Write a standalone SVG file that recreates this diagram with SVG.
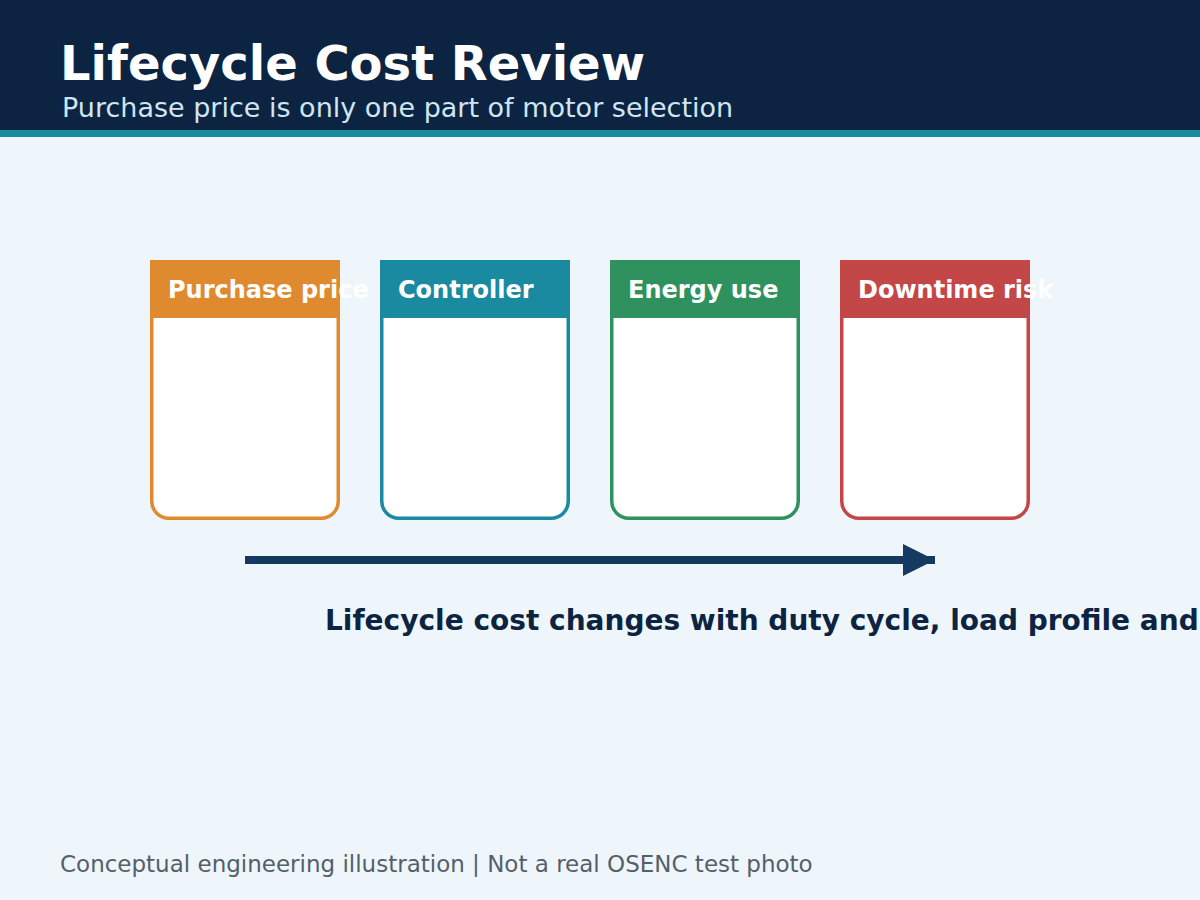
<svg xmlns="http://www.w3.org/2000/svg" width="1200" height="900" viewBox="0 0 1200 900">
<style>
.card{fill:#ffffff;stroke-width:3.5}
.lbl{font-family:"DejaVu Sans",sans-serif;font-size:24px;font-weight:bold;fill:#ffffff}
</style>
<defs>
<marker id="ah" viewBox="0 0 10 10" refX="10" refY="5" markerWidth="4" markerHeight="4" markerUnits="strokeWidth" orient="auto">
<path d="M0,0 L10,5 L0,10 Z" fill="#143a60"/>
</marker>
</defs>
<rect width="1200" height="900" fill="#eef6fb"/>
<rect width="1200" height="130" fill="#0c2442"/>
<rect y="130" width="1200" height="7" fill="#1a8aa0"/>
<text x="60" y="80" font-family="DejaVu Sans,sans-serif" font-size="48" font-weight="bold" fill="#ffffff">Lifecycle Cost Review</text>
<text x="62" y="117" font-family="DejaVu Sans,sans-serif" font-size="27" fill="#cfe6f5">Purchase price is only one part of motor selection</text>
<g id="card-purchase">
<path class="card" d="M151.75,262 H338.25 V501.25 a17,17 0 0 1 -17,17 H168.75 a17,17 0 0 1 -17,-17 Z" stroke="#e08a30"/>
<rect x="150" y="260" width="190" height="58" fill="#e08a30"/>
<text class="lbl" x="168" y="298">Purchase price</text>
</g>
<g id="card-controller">
<path class="card" d="M381.75,262 H568.25 V501.25 a17,17 0 0 1 -17,17 H398.75 a17,17 0 0 1 -17,-17 Z" stroke="#1a8aa0"/>
<rect x="380" y="260" width="190" height="58" fill="#1a8aa0"/>
<text class="lbl" x="398" y="298">Controller</text>
</g>
<g id="card-energy">
<path class="card" d="M611.75,262 H798.25 V501.25 a17,17 0 0 1 -17,17 H628.75 a17,17 0 0 1 -17,-17 Z" stroke="#2e915e"/>
<rect x="610" y="260" width="190" height="58" fill="#2e915e"/>
<text class="lbl" x="628" y="298">Energy use</text>
</g>
<g id="card-downtime">
<path class="card" d="M841.75,262 H1028.25 V501.25 a17,17 0 0 1 -17,17 H858.75 a17,17 0 0 1 -17,-17 Z" stroke="#c44747"/>
<rect x="840" y="260" width="190" height="58" fill="#c44747"/>
<text class="lbl" x="858" y="298">Downtime risk</text>
</g>
<g id="connectors">
<line x1="245" y1="560" x2="935" y2="560" stroke="#143a60" stroke-width="8" marker-end="url(#ah)"/>
</g>
<text x="325" y="630" font-family="DejaVu Sans,sans-serif" font-size="28" font-weight="bold" fill="#0c2442">Lifecycle cost changes with duty cycle, load profile and</text>
<text x="60" y="872" font-family="DejaVu Sans,sans-serif" font-size="23" fill="#555f6a">Conceptual engineering illustration | Not a real OSENC test photo</text>
</svg>
